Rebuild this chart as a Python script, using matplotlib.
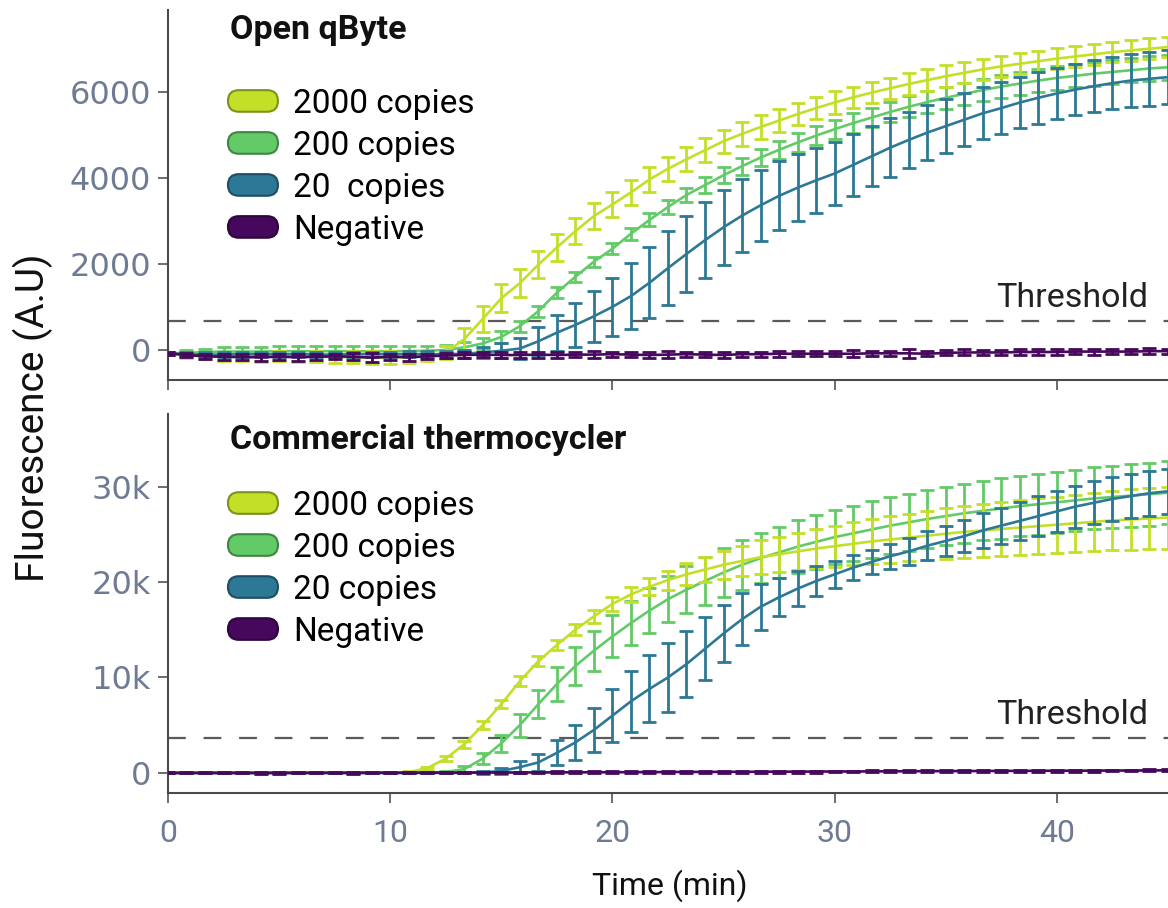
import matplotlib
matplotlib.use("Agg")
import matplotlib.pyplot as plt
import matplotlib.colors as mcolors
import numpy as np
from matplotlib.patches import FancyBboxPatch, Patch
from matplotlib.legend_handler import HandlerBase
from matplotlib import font_manager

# ---------------- data ----------------
n_cycles = 55
cycle_min = 50 / 60
time_min = np.arange(n_cycles) * cycle_min

labels_top = ["2000 copies", "200 copies", "20  copies", "Negative"]
labels_bot = ["2000 copies", "200 copies", "20 copies", "Negative"]
colors = ["#c4df28", "#62cb67", "#2d7895", "#46085c"]

# Open qByte (top panel)
top_2000 = [-80, -120, -140, -150, -150, -160, -150, -160, -160, -170, -170, -180, -180, -170, -150,
            -60, 250, 720, 1200, 1550, 1980, 2380, 2760, 3110, 3380, 3660, 3960, 4210, 4430, 4640,
            4850, 5020, 5180, 5330, 5480, 5620, 5750, 5870, 5980, 6080, 6180, 6270, 6360, 6440, 6520,
            6590, 6650, 6710, 6770, 6820, 6870, 6920, 6960, 7000, 7040]
top_2000_err = [40, 60, 80, 100, 110, 120, 120, 120, 130, 130, 140, 150, 150, 140, 120,
                150, 250, 300, 320, 320, 320, 320, 310, 300, 300, 290, 290, 280, 280, 280,
                270, 270, 270, 260, 260, 260, 260, 250, 250, 250, 250, 250, 250, 240, 240,
                240, 240, 240, 240, 240, 240, 240, 240, 240, 240]
top_200 = [-80, -70, -50, -40, -40, -40, -30, -30, -30, -30, -30, -30, -30, -30, -20,
           0, 60, 150, 300, 550, 900, 1330, 1700, 2050, 2350, 2700, 3020, 3320, 3600, 3830,
           4060, 4270, 4470, 4650, 4820, 4980, 5130, 5270, 5400, 5530, 5650, 5760, 5860, 5950, 6040,
           6120, 6190, 6260, 6320, 6370, 6420, 6460, 6500, 6540, 6570]
top_200_err = [40, 60, 80, 100, 100, 110, 110, 110, 110, 110, 110, 110, 110, 110, 110,
               110, 120, 130, 130, 130, 130, 120, 120, 120, 130, 140, 150, 160, 170, 180,
               190, 200, 200, 210, 210, 220, 220, 230, 230, 240, 240, 250, 250, 250, 260,
               260, 260, 270, 270, 270, 280, 280, 280, 290, 290]
top_20 = [-80, -100, -110, -110, -100, -100, -100, -100, -110, -110, -100, -100, -100, -100, -100,
          -100, -90, -60, -20, 30, 200, 400, 580, 780, 1000, 1250, 1560, 1900, 2230, 2550,
          2850, 3120, 3360, 3580, 3770, 3940, 4100, 4300, 4500, 4700, 4880, 5050, 5200, 5350, 5500,
          5620, 5750, 5860, 5960, 6050, 6130, 6200, 6260, 6300, 6340]
top_20_err = [30, 50, 60, 60, 60, 60, 60, 60, 60, 60, 60, 60, 60, 70, 70,
              80, 90, 120, 180, 250, 330, 420, 520, 600, 680, 760, 820, 860, 880, 880,
              870, 850, 830, 800, 780, 760, 740, 720, 700, 680, 660, 640, 630, 620, 610,
              600, 600, 600, 600, 600, 600, 610, 610, 620, 620]
top_neg = [-80, -120, -150, -160, -170, -170, -160, -170, -160, -150, -160, -180, -160, -170, -150,
           -130, -120, -110, -120, -120, -110, -120, -110, -110, -100, -110, -120, -110, -100, -110,
           -120, -100, -100, -90, -90, -90, -90, -90, -80, -80, -80, -90, -70, -60, -60,
           -60, -50, -50, -50, -40, -40, -40, -40, -30, -30]
top_neg_err = [30, 50, 60, 70, 70, 80, 70, 80, 70, 60, 80, 100, 70, 80, 60,
               60, 70, 60, 60, 80, 70, 60, 60, 80, 60, 60, 70, 90, 60, 60,
               80, 60, 60, 70, 60, 60, 60, 80, 60, 60, 100, 60, 60, 70, 60,
               60, 70, 80, 60, 60, 70, 60, 60, 70, 60]

# Commercial thermocycler (bottom panel)
bot_2000 = [0, 0, 0, 0, 0, 0, 0, 0, 0, 0, 0, 10, 20, 80, 500,
            1500, 3000, 5000, 7200, 9600, 11700, 13400, 15000, 16400, 17700, 18700, 19500, 20200, 20800, 21300,
            21800, 22200, 22600, 22900, 23200, 23500, 23750, 24000, 24250, 24450, 24650, 24850, 25050, 25250, 25400,
            25550, 25700, 25850, 26000, 26150, 26300, 26450, 26550, 26650, 26750]
bot_2000_err = [30, 30, 30, 30, 30, 30, 30, 30, 30, 30, 30, 40, 50, 80, 150,
                250, 350, 400, 450, 500, 500, 550, 600, 650, 700, 800, 900, 1000, 1150, 1300,
                1450, 1600, 1750, 1850, 1950, 2050, 2150, 2250, 2350, 2450, 2500, 2600, 2650, 2700, 2750,
                2800, 2850, 2900, 2950, 3000, 3050, 3100, 3150, 3200, 3250]
bot_200 = [0, 0, 0, 0, 0, 0, 0, 0, 0, 0, 0, 0, 0, 10, 30,
           100, 400, 1500, 3100, 5000, 7200, 9300, 11200, 12800, 14300, 15700, 17000, 18200, 19200, 20100,
           21000, 21800, 22500, 23100, 23700, 24200, 24700, 25100, 25500, 25900, 26250, 26600, 26900, 27200, 27450,
           27700, 27950, 28150, 28350, 28550, 28750, 28900, 29050, 29200, 29350]
bot_200_err = [30, 30, 30, 30, 30, 30, 30, 30, 30, 30, 30, 30, 30, 40, 50,
               100, 300, 600, 900, 1200, 1500, 1800, 2000, 2100, 2200, 2300, 2350, 2400, 2450, 2500,
               2550, 2600, 2650, 2700, 2750, 2800, 2850, 2900, 2950, 3000, 3000, 3050, 3050, 3100, 3100,
               3150, 3150, 3200, 3200, 3200, 3250, 3250, 3300, 3300, 3300]
bot_20 = [0, 0, 0, 0, 0, 0, 0, 0, 0, 0, 0, 0, 0, 0, 0,
          0, 0, 50, 200, 600, 1100, 2100, 3200, 4500, 6000, 7500, 8800, 10000, 11400, 13000,
          14600, 16100, 17400, 18400, 19300, 20100, 20800, 21500, 22100, 22700, 23200, 23800, 24300, 24800, 25400,
          25900, 26400, 26900, 27400, 27900, 28300, 28700, 29000, 29300, 29500]
bot_20_err = [30, 30, 30, 30, 30, 30, 30, 30, 30, 30, 30, 30, 30, 30, 30,
              30, 50, 150, 300, 600, 900, 1300, 1800, 2300, 2800, 3200, 3500, 3600, 3500, 3300,
              3000, 2700, 2400, 2000, 1800, 1600, 1400, 1300, 1300, 1300, 1400, 1500, 1600, 1700, 1800,
              1900, 2000, 2100, 2150, 2200, 2250, 2300, 2300, 2350, 2350]
bot_neg = [0, 0, 0, 0, 0, 0, 0, 10, 10, 10, 10, 20, 20, 20, 30,
           30, 30, 40, 40, 50, 50, 60, 60, 70, 70, 80, 80, 90, 100, 100,
           110, 110, 120, 130, 130, 140, 150, 150, 160, 170, 170, 180, 190, 190, 200,
           210, 210, 220, 230, 230, 240, 250, 250, 260, 270]
bot_neg_err = [60, 60, 60, 60, 60, 70, 70, 70, 70, 70, 80, 80, 80, 80, 80,
               80, 90, 90, 90, 90, 90, 100, 100, 100, 100, 100, 100, 100, 100, 100,
               100, 100, 100, 100, 100, 100, 100, 100, 100, 100, 100, 100, 100, 100, 100,
               100, 100, 100, 100, 100, 100, 100, 100, 100, 100]

top_threshold = 670
bot_threshold = 3650

top_yticks = [0, 2000, 4000, 6000]
top_yticklabels = ["0", "2000", "4000", "6000"]
bot_yticks = [0, 10000, 20000, 30000]
bot_yticklabels = ["0", "10k", "20k", "30k"]
xticks = [0, 10, 20, 30, 40]
xticklabels = ["0", "10", "20", "30", "40"]

# ---------------- style ----------------
available = {f.name for f in font_manager.fontManager.ttflist}
REG = "Roboto" if "Roboto" in available else "DejaVu Sans"
TICKC = "#6e7b92"
SPINEC = "#4a4a4a"


def darker(c, f=0.65):
    r, g, b = mcolors.to_rgb(c)
    return (r * f, g * f, b * f)


class PillHandler(HandlerBase):
    def create_artists(self, legend, orig_handle, xdescent, ydescent,
                       width, height, fontsize, trans):
        p = FancyBboxPatch((-xdescent, -ydescent), width, height,
                           boxstyle=f"round,pad=0,rounding_size={height / 2}",
                           facecolor=orig_handle.get_facecolor(),
                           edgecolor=orig_handle.get_edgecolor(),
                           linewidth=1.5, transform=trans)
        return [p]


fig = plt.figure(figsize=(11.68, 9.08), dpi=100)
ax1 = fig.add_axes([0.1438, 0.5815, 0.8562, 0.4075])
ax2 = fig.add_axes([0.1438, 0.1267, 0.8562, 0.4174])

panels = [
    (ax1, [top_2000, top_200, top_20, top_neg], [top_2000_err, top_200_err, top_20_err, top_neg_err],
     labels_top, top_threshold, (-700, 7900), top_yticks, top_yticklabels, "Open qByte", 0.946, 0.79),
    (ax2, [bot_2000, bot_200, bot_20, bot_neg], [bot_2000_err, bot_200_err, bot_20_err, bot_neg_err],
     labels_bot, bot_threshold, (-2100, 37600), bot_yticks, bot_yticklabels, "Commercial thermocycler", 0.931, 0.80),
]

draw_order = [1, 0, 2, 3]
for ax, means, errs, labs, thr, ylim, yt, ytl, title, ty, ly in panels:
    ax.axhline(thr, color="#5a5a5a", lw=1.6, ls=(0, (8, 8)), zorder=1)
    for z, k in enumerate(draw_order):
        ax.errorbar(time_min, means[k], yerr=errs[k], color=colors[k], lw=1.9,
                    elinewidth=2.0, capsize=5, capthick=2.0, zorder=2 + z)
    ax.set_xlim(0, 45)
    ax.set_ylim(*ylim)
    ax.set_yticks(yt)
    ax.set_yticklabels(ytl)
    ax.set_xticks(xticks)
    for s in ["top", "right"]:
        ax.spines[s].set_visible(False)
    for s in ["left", "bottom"]:
        ax.spines[s].set_color(SPINEC)
        ax.spines[s].set_linewidth(1.5)
    ax.tick_params(axis="both", direction="out", length=7, width=1.2, color="#555555")
    ax.tick_params(axis="y", labelsize=23, labelcolor=TICKC, pad=5)
    for lab in ax.get_yticklabels():
        lab.set_family("DejaVu Sans")
    ax.annotate("Threshold", xy=(44.1, thr), xytext=(0, 5), textcoords="offset points",
                ha="right", va="bottom", fontsize=24.5, family=REG, color="#222222")
    ax.text(0.062, ty, title, transform=ax.transAxes, fontsize=24.5, fontweight="bold",
            family=REG, color="#111111", ha="left", va="center")
    handles = [Patch(facecolor=c, edgecolor=darker(c)) for c in colors]
    ax.legend(handles, labs, handler_map={Patch: PillHandler()}, loc="upper left",
              bbox_to_anchor=(0.06, ly), borderpad=0, borderaxespad=0, frameon=False,
              handlelength=1.5, handleheight=0.62, handletextpad=0.45, labelspacing=0.30,
              prop={"family": REG, "size": 24})

ax1.tick_params(axis="x", labelbottom=False)
ax2.set_xticklabels(xticklabels)
ax2.tick_params(axis="x", labelsize=23, labelcolor=TICKC, pad=12)
for lab in ax2.get_xticklabels():
    lab.set_family(REG)

fig.text(0.5735, 0.025, "Time (min)", ha="center", va="center", fontsize=23, family=REG, color="#111111")
fig.text(0.028, 0.54, "Fluorescence (A.U)", ha="center", va="center", rotation=90,
         fontsize=28, family=REG, color="#111111")

fig.savefig("out.png", dpi=100)
